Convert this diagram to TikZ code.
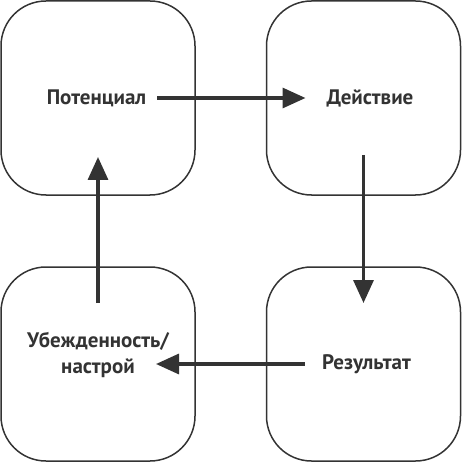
\documentclass[tikz,border=0pt]{standalone}
\usepackage{fontspec}
\setmainfont{PT Sans}
\usepackage{tikz}
\usetikzlibrary{arrows.meta}
\definecolor{qqqqqq}{rgb}{0.2,0.2,0.2}
\tikzstyle{every node}=[font=\bfseries\fontsize{21}{26}\selectfont]

\begin{document}
\begin{tikzpicture}[line cap=round,line join=round,>={Triangle[length=23pt,width=20pt]},x=1pt,y=-1pt]
        \useasboundingbox (0,0) rectangle (462,462);
        \tikzstyle{stage}=[draw=qqqqqq,line width=1.5pt,rounded corners=45pt,minimum width=194pt,minimum height=194pt]
        \tikzstyle{flow}=[->,color=qqqqqq,line width=3.3pt,line cap=butt,shorten <=59pt,shorten >=58pt]
        \node[stage] (pot) at (98,98) {};
        \node[stage] (dei) at (363.5,98) {};
        \node[stage] (res) at (363.5,364) {};
        \node[stage] (ube) at (98,364) {};
        \draw [flow] (pot.center) -- (dei.center);
        \draw [flow,shorten <=57pt,shorten >=61pt] (dei.center) -- (res.center);
        \draw [flow] (res.center) -- (ube.center);
        \draw [flow,shorten <=61pt,shorten >=59pt] (ube.center) -- (pot.center);
        \draw[color=qqqqqq] (96.5,98) node (pottext) {Потенциал};
        \draw[color=qqqqqq] (370,98) node (deitext) {Действие};
        \draw[color=qqqqqq] (366.5,364) node (restext) {Результат};
        \draw[color=qqqqqq] (98,355) node[align=center] (ubetext) {Убежденность/\\настрой};
        \end{tikzpicture}
\end{document}
